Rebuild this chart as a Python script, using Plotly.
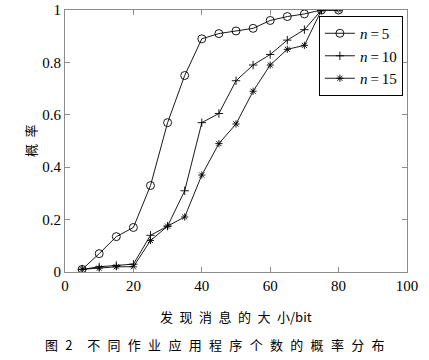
import plotly.graph_objects as go

x_vals = [5, 10, 15, 20, 25, 30, 35, 40, 45, 50, 55, 60, 65, 70, 75, 80]
p_n5 = [0.01, 0.07, 0.135, 0.17, 0.33, 0.57, 0.75, 0.89, 0.91, 0.92, 0.93, 0.96, 0.975, 0.985, 1.0, 1.0]
p_n10 = [0.01, 0.02, 0.025, 0.03, 0.14, 0.175, 0.31, 0.57, 0.605, 0.73, 0.79, 0.83, 0.885, 0.925, 1.0, 1.0]
p_n15 = [0.01, 0.015, 0.02, 0.02, 0.12, 0.175, 0.21, 0.37, 0.49, 0.565, 0.69, 0.79, 0.85, 0.865, 1.0, 1.0]
series_names = ["<i>n</i>\u2009=\u20095", "<i>n</i>\u2009=\u200910", "<i>n</i>\u2009=\u200915"]
x_ticks = [0, 20, 40, 60, 80, 100]
y_ticks = [0, 0.2, 0.4, 0.6, 0.8, 1]
y_tick_text = ["0", "0.2", "0.4", "0.6", "0.8", "1"]

serif = "Liberation Serif, Times New Roman, serif"
cjk = "Noto Sans CJK SC"
SP = "\u2002"
SP2 = "\u2002\u200a"

fig = go.Figure()
styles = [
    dict(symbol="circle-open", size=8),
    dict(symbol="cross-thin-open", size=6),
    dict(symbol="asterisk-open", size=6),
]
for ys, name, st in zip([p_n5, p_n10, p_n15], series_names, styles):
    fig.add_trace(go.Scatter(
        x=x_vals, y=ys, name=name, mode="lines+markers",
        line=dict(color="black", width=0.9),
        marker=dict(symbol=st["symbol"], size=st["size"], color="black",
                    line=dict(color="black", width=0.9)),
    ))

axis_common = dict(
    showline=True, mirror="ticks", linecolor="#8c8c8c", linewidth=1,
    ticks="inside", ticklen=5, tickcolor="#8c8c8c",
    showgrid=False, zeroline=False, automargin=False,
    tickfont=dict(family=serif, size=15, color="black"),
)

x_title = SP.join(list("发现消息的大")) + SP + "小/bit"
caption = "图" + SP2 + "2" + SP2 + SP2 + SP2.join(list("不同作业应用程序个数的概率分布"))
y_title = "概" + SP + "率"

fig.update_layout(
    width=429, height=360,
    margin=dict(l=65, r=22, t=10, b=88),
    paper_bgcolor="white", plot_bgcolor="white",
    font=dict(family=serif),
    xaxis=dict(range=[0, 100], tickvals=x_ticks, **axis_common),
    yaxis=dict(range=[0, 1], tickvals=y_ticks, ticktext=y_tick_text, **axis_common),
    showlegend=True,
    legend=dict(
        x=0.988, y=0.977, xanchor="right", yanchor="top",
        bordercolor="black", borderwidth=1, bgcolor="white",
        font=dict(family=serif, size=15, color="black"),
        tracegroupgap=0, itemwidth=30,
    ),
    annotations=[
        dict(text=x_title, x=0.5, y=-0.1, xref="paper", yref="paper",
             yshift=-18, showarrow=False, xanchor="center", yanchor="middle",
             font=dict(family=cjk, size=13, color="black")),
        dict(text=caption, x=0.4386, y=-0.1,
             xref="paper", yref="paper", yshift=-46, showarrow=False,
             xanchor="center", yanchor="middle",
             font=dict(family=cjk, size=13, color="black")),
        dict(text=y_title, x=0, y=0.5, xref="paper", yref="paper", xshift=-35,
             textangle=-90, showarrow=False, xanchor="center", yanchor="middle",
             font=dict(family=cjk, size=13, color="black")),
    ],
)

fig.write_html("out.html")
